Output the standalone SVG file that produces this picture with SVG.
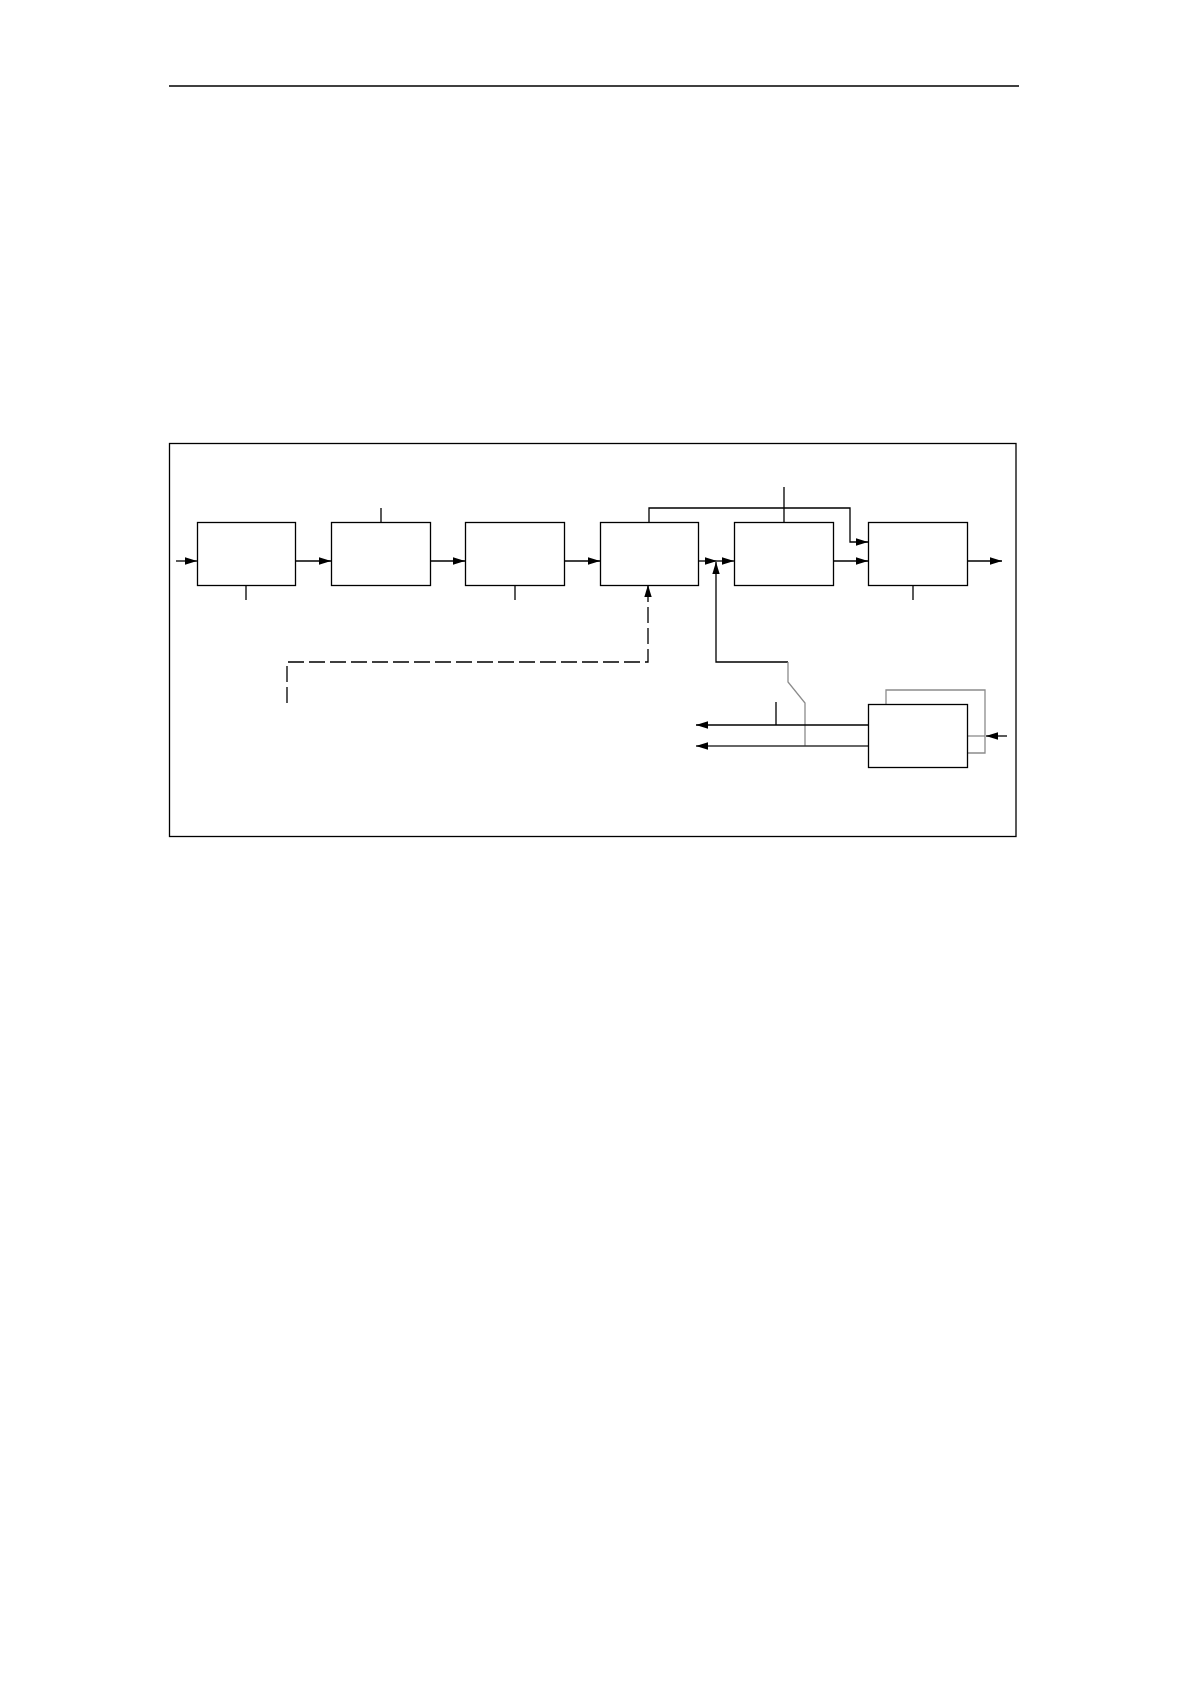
<svg xmlns="http://www.w3.org/2000/svg" width="1190" height="1683" viewBox="0 0 1190 1683">
<style>
.box{fill:#fff;stroke:#000;stroke-width:1.3}
.ln{fill:none;stroke:#000;stroke-width:1.3}
.gr{fill:none;stroke:#8c8c8c;stroke-width:1.3}
.dg{fill:none;stroke:#333;stroke-width:1.3}
.ar{marker-end:url(#ah)}
.dash{stroke-dasharray:16 5}
</style>
<defs>
<marker id="ah" markerUnits="userSpaceOnUse" markerWidth="12" markerHeight="8" refX="12" refY="4" orient="auto">
<path d="M0,0.3 L12,4 L0,7.7 z" fill="#000"/>
</marker>
</defs>
<rect width="1190" height="1683" fill="#fff"/>
<line x1="169" y1="86" x2="1019" y2="86" stroke="#000" stroke-width="1.3"/>
<g id="frame"><rect x="169.5" y="443.5" width="846.5" height="393" fill="none" stroke="#000" stroke-width="1.3"/></g>
<g id="connectors">
<path class="ln ar" d="M176,561 H197"/>
<path class="ln ar" d="M295,561 H331"/>
<path class="ln ar" d="M430,561 H465"/>
<path class="ln ar" d="M564,561 H600"/>
<path class="ln ar" d="M698,561 H717"/>
<path class="ln ar" d="M717,561 H734"/>
<path class="ln ar" d="M833,561 H868"/>
<path class="ln ar" d="M967,561 H1002"/>
<path class="ln ar" d="M649,522 V508 H850 V542 H868"/>
<path class="ln" d="M784,487 V522"/>
<path class="ln" d="M381,508 V522"/>
<path class="ln" d="M246,585 V600"/>
<path class="ln" d="M515,585 V600"/>
<path class="ln" d="M913,585 V600"/>
<path class="ln dash ar" d="M287,703 V662 H648 V585"/>
<path class="ln ar" d="M788,662 H716 V562"/>
<path class="gr" d="M788,662 V682 L805,703 V746"/>
<path class="gr" d="M886,704 V690 H985 V753 H967"/>
<path class="gr" d="M967,736 H985"/>
<path class="ln ar" d="M1007,736 H986"/>
<path class="ln ar" d="M869,725 H696"/>
<path class="dg ar" d="M869,746 H696"/>
<path class="ln" d="M776,702 V725"/>
</g>
<g id="b1"><rect class="box" x="197.5" y="522.5" width="98" height="63"/></g>
<g id="b2"><rect class="box" x="331.5" y="522.5" width="99" height="63"/></g>
<g id="b3"><rect class="box" x="465.5" y="522.5" width="99" height="63"/></g>
<g id="b4"><rect class="box" x="600.5" y="522.5" width="98" height="63"/></g>
<g id="b5"><rect class="box" x="734.5" y="522.5" width="99" height="63"/></g>
<g id="b6"><rect class="box" x="868.5" y="522.5" width="99" height="63"/></g>
<g id="b7"><rect class="box" x="868.5" y="704.5" width="99" height="63"/></g>
</svg>
